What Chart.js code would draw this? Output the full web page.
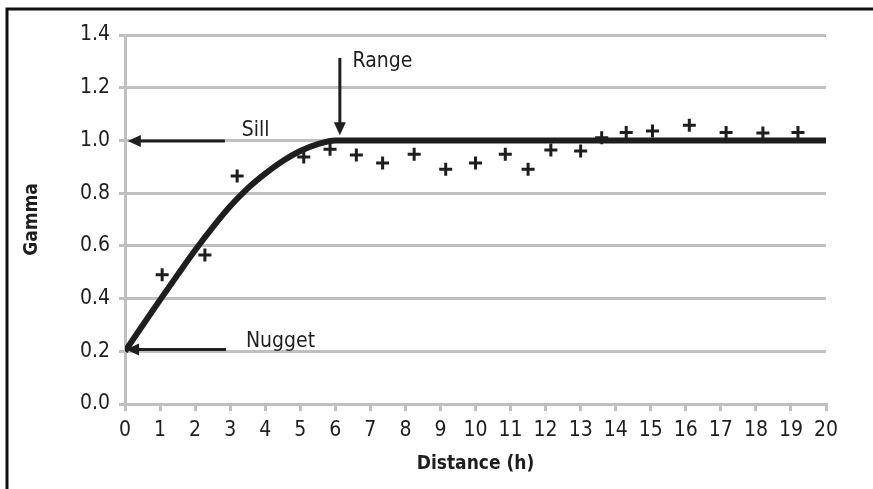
<!DOCTYPE html>
<html>
<head>
<meta charset="utf-8">
<title>Variogram</title>
<script src="https://cdn.jsdelivr.net/npm/chart.js"></script>
<style>
    html, body { margin: 0; padding: 0; background: #fff; }
    #wrap { position: relative; width: 873px; height: 489px; }
</style>
</head>
<body>
<div id="wrap"><canvas id="myChart" width="873" height="489"></canvas></div>
<script>
// experimental semivariogram (crosses)
var distance = [1.06, 2.28, 3.2, 5.1, 5.85, 6.6, 7.35, 8.25, 9.15, 10.0, 10.85, 11.5, 12.15, 13.0, 13.6, 14.3, 15.05, 16.1, 17.15, 18.2, 19.2];
var gamma = [0.49, 0.565, 0.865, 0.937, 0.967, 0.945, 0.914, 0.948, 0.891, 0.914, 0.948, 0.891, 0.964, 0.96, 1.01, 1.03, 1.036, 1.058, 1.03, 1.028, 1.03];

// fitted model curve
var modelDistance = [0, 0.5, 1, 1.5, 2, 2.5, 3, 3.5, 4, 4.5, 5, 5.5, 6, 20];
var modelGamma = [0.2, 0.298, 0.395, 0.49, 0.583, 0.67, 0.75, 0.818, 0.874, 0.922, 0.96, 0.986, 1.0, 1.0];

// annotation labels
var sillLabel = 'Sill';
var nuggetLabel = 'Nugget';
var rangeLabel = 'Range';

var FONT = "'DejaVu Sans Condensed', 'Liberation Sans Narrow', sans-serif";
var INK = '#1e1e1e';
var GRID = '#c0c0c0';

function pts(xs, ys) {
    return xs.map(function (x, i) { return { x: x, y: ys[i] }; });
}

// draws an arrow between two points given in data units
function arrow(ctx, sx, sy, x1, y1, x2, y2) {
    var ax = sx.getPixelForValue(x1), ay = sy.getPixelForValue(y1);
    var bx = sx.getPixelForValue(x2), by = sy.getPixelForValue(y2);
    var ang = Math.atan2(by - ay, bx - ax);
    var len = 13, half = 6;
    ctx.save();
    ctx.strokeStyle = INK;
    ctx.fillStyle = INK;
    ctx.lineWidth = 3;
    ctx.beginPath();
    ctx.moveTo(ax, ay);
    ctx.lineTo(bx - Math.cos(ang) * (len - 2), by - Math.sin(ang) * (len - 2));
    ctx.stroke();
    ctx.beginPath();
    ctx.moveTo(bx, by);
    ctx.lineTo(bx - Math.cos(ang) * len - Math.sin(ang) * half, by - Math.sin(ang) * len + Math.cos(ang) * half);
    ctx.lineTo(bx - Math.cos(ang) * len + Math.sin(ang) * half, by - Math.sin(ang) * len - Math.cos(ang) * half);
    ctx.closePath();
    ctx.fill();
    ctx.restore();
}

function label(ctx, sx, sy, text, x, y) {
    ctx.save();
    ctx.fillStyle = INK;
    ctx.font = '21px ' + FONT;
    ctx.textAlign = 'left';
    ctx.textBaseline = 'middle';
    ctx.fillText(text, sx.getPixelForValue(x), sy.getPixelForValue(y));
    ctx.restore();
}

var framePlugin = {
    id: 'frame',
    beforeDraw: function (chart) {
        var ctx = chart.ctx;
        ctx.save();
        ctx.fillStyle = '#fff';
        ctx.fillRect(0, 0, chart.width, chart.height);
        ctx.strokeStyle = '#111';
        ctx.lineWidth = 3;
        ctx.beginPath();
        ctx.moveTo(chart.width, 9);
        ctx.lineTo(7, 9);
        ctx.lineTo(7, chart.height);
        ctx.stroke();
        ctx.restore();
    }
};

var notesPlugin = {
    id: 'notes',
    afterDatasetsDraw: function (chart) {
        var ctx = chart.ctx, sx = chart.scales.x, sy = chart.scales.y;
        arrow(ctx, sx, sy, 2.85, 0.998, 0.08, 0.998);   // sill
        arrow(ctx, sx, sy, 2.88, 0.207, 0.03, 0.207);   // nugget
        arrow(ctx, sx, sy, 6.13, 1.313, 6.13, 1.02);    // range
        label(ctx, sx, sy, sillLabel, 3.33, 1.037);
        label(ctx, sx, sy, nuggetLabel, 3.45, 0.237);
        label(ctx, sx, sy, rangeLabel, 6.49, 1.30);
    }
};

var ctx = document.getElementById('myChart');

var chart = new Chart(ctx, {
    type: 'scatter',
    data: {
        datasets: [{
            type: 'line',
            label: 'Model',
            data: pts(modelDistance, modelGamma),
            borderColor: INK,
            borderWidth: 6,
            pointRadius: 0,
            fill: false,
            cubicInterpolationMode: 'monotone'
        }, {
            label: 'Gamma',
            data: pts(distance, gamma),
            pointStyle: 'cross',
            pointRadius: 6.5,
            pointBorderWidth: 3,
            borderColor: INK,
            backgroundColor: INK
        }]
    },
    options: {
        responsive: false,
        animation: false,
        layout: { padding: { top: 35, right: 47, bottom: 0, left: 0 } },
        plugins: {
            legend: { display: false },
            tooltip: { enabled: false }
        },
        scales: {
            x: {
                type: 'linear',
                min: 0,
                max: 20,
                afterFit: function (s) { s.height = 85; },
                grid: { drawOnChartArea: false, drawTicks: true, tickLength: 7, color: GRID, lineWidth: 3 },
                border: { display: true, color: GRID, width: 3 },
                ticks: { stepSize: 1, padding: 7, color: INK, font: { family: FONT, size: 21 } },
                title: {
                    display: true,
                    text: 'Distance (h)',
                    color: INK,
                    padding: { top: 0, bottom: 14 },
                    font: { family: FONT, size: 19, weight: 'bold' }
                }
            },
            y: {
                min: 0,
                max: 1.4,
                afterFit: function (s) { s.width = 125; },
                grid: { color: GRID, lineWidth: 3, tickLength: 6 },
                border: { display: true, color: GRID, width: 3 },
                ticks: {
                    stepSize: 0.2,
                    padding: 9,
                    color: INK,
                    font: { family: FONT, size: 21 },
                    callback: function (v) { return v.toFixed(1); }
                },
                title: {
                    display: true,
                    text: 'Gamma',
                    color: INK,
                    padding: { top: 21, bottom: 0 },
                    font: { family: FONT, size: 19, weight: 'bold' }
                }
            }
        }
    },
    plugins: [framePlugin, notesPlugin]
});
</script>
</body>
</html>
